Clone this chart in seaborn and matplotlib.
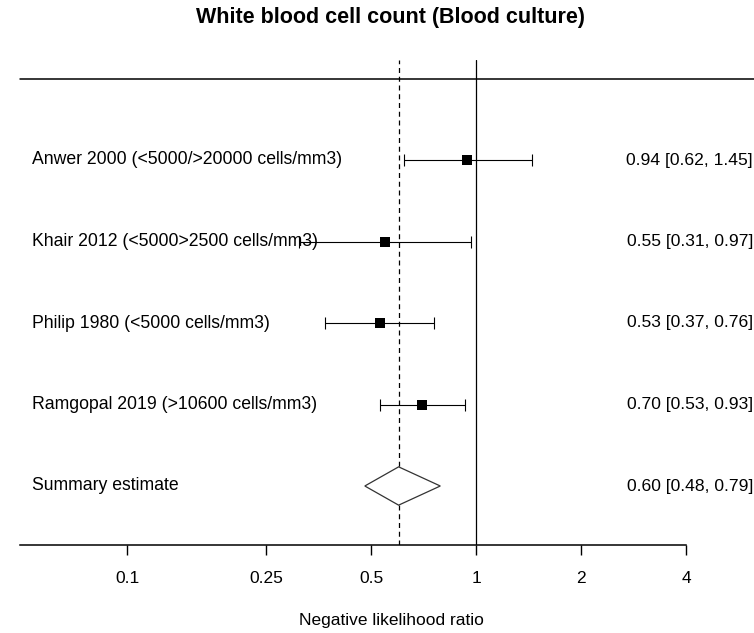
import numpy as np
import pandas as pd
import matplotlib
matplotlib.use("Agg")
import matplotlib.pyplot as plt
import matplotlib.transforms as mtransforms
import seaborn as sns

# data
studies = ["Anwer 2000 (<5000/>20000 cells/mm3)",
           "Khair 2012 (<5000>2500 cells/mm3)",
           "Philip 1980 (<5000 cells/mm3)",
           "Ramgopal 2019 (>10600 cells/mm3)"]
estimate = [0.94, 0.55, 0.53, 0.70]
ci_low = [0.62, 0.31, 0.37, 0.53]
ci_high = [1.45, 0.97, 0.76, 0.93]

summary_label = "Summary estimate"
summary_est = 0.60
summary_low = 0.48
summary_high = 0.79

xticks = [0.1, 0.25, 0.5, 1, 2, 4]
xtick_labels = ["0.1", "0.25", "0.5", "1", "2", "4"]

W, H = 754, 633
df = pd.DataFrame({"study": studies, "est": estimate, "lo": ci_low, "hi": ci_high})
df["row"] = np.arange(len(df), 0, -1) + 1   # 5,4,3,2 ; summary on row 1

sns.set_theme(style="white")
plt.rcParams["font.family"] = ["Liberation Sans", "DejaVu Sans"]
plt.rcParams["text.color"] = "black"

fig = plt.figure(figsize=(W / 100, H / 100), dpi=100)
# axes covers full width; y from pixel 60 to 545
ax = fig.add_axes([0, (H - 545) / H, 1, (545 - 60) / H])
ax.set_xscale("log", base=2)
# pixel -> log2 mapping: x=1 at 476 px, 105 px per doubling
ax.set_xlim(2 ** ((0 - 476) / 105), 2 ** ((W - 476) / 105))
ax.set_ylim(1 - (545 - 486) / 81.5, 5 + (160 - 60) / 81.5)

# reference lines
ax.axvline(1, color="black", lw=0.9)
ax.axvline(summary_est, color="black", lw=0.9, ls=(0, (4, 3)))
ax.axhline(6, xmin=20 / W, xmax=1, color="black", lw=1.1)

# CI whiskers
ax.errorbar(df["est"], df["row"],
            xerr=[df["est"] - df["lo"], df["hi"] - df["est"]],
            fmt="none", ecolor="black", elinewidth=0.8, capsize=4, capthick=0.8)
sns.scatterplot(data=df, x="est", y="row", marker="s", s=45, color="black",
                edgecolor="black", linewidth=0, ax=ax, zorder=5, legend=False)

# summary diamond
h = 0.235
ax.fill([summary_low, summary_est, summary_high, summary_est],
        [1, 1 + h, 1, 1 - h], facecolor="white", edgecolor="#333333", lw=0.9, zorder=4)

# text columns
trans = mtransforms.blended_transform_factory(ax.transAxes, ax.transData)
labels = list(df["study"]) + [summary_label]
rows = list(df["row"]) + [1]
ests = list(df["est"]) + [summary_est]
los = list(df["lo"]) + [summary_low]
his = list(df["hi"]) + [summary_high]
for lab, r, e, lo, hi in zip(labels, rows, ests, los, his):
    ax.text(32 / W, r, lab, transform=trans, ha="left", va="center", fontsize=12.7, color="black")
    ax.text(753 / W, r, f"{e:.2f} [{lo:.2f}, {hi:.2f}]", transform=trans,
            ha="right", va="center", fontsize=12.6, color="black")

# axis styling
ax.set_xlabel("")
ax.set_ylabel("")
for side in ["top", "left", "right"]:
    ax.spines[side].set_visible(False)
ax.spines["bottom"].set_color("black")
ax.spines["bottom"].set_linewidth(1.1)
ax.spines["bottom"].set_bounds(2 ** ((20 - 476) / 105), 4)
ax.set_yticks([])
ax.set_xticks(xticks)
ax.set_xticklabels(xtick_labels)
ax.xaxis.set_minor_locator(matplotlib.ticker.NullLocator())
ax.tick_params(axis="x", which="major", direction="out", length=7, width=1,
               color="black", labelsize=12.5, labelcolor="black", pad=12, bottom=True)

fig.text(391 / W, 1 - 18 / H, "White blood cell count (Blood culture)",
         ha="center", va="center", fontsize=15.5, fontweight="bold", color="black")
fig.text(391 / W, 1 - 620 / H, "Negative likelihood ratio", ha="center", va="center",
         fontsize=12.5, color="black")

fig.savefig("out.png", dpi=100)
